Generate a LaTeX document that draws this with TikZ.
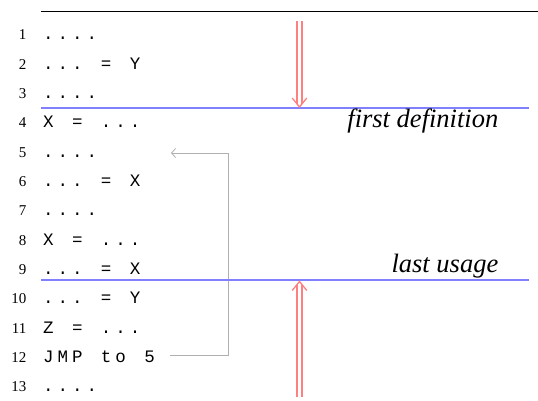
\documentclass[tikz,border=0pt]{standalone}
\usepackage{fontspec}
\setmainfont{Liberation Serif}
\newfontfamily\codefont{Liberation Mono}
\usetikzlibrary{arrows.meta,calc}
\makeatletter
\newcommand\codeline[1]{\@tfor\cch:=#1\do{\makebox[14.45pt][c]{\cch}}}
\makeatother
\definecolor{lblue}{RGB}{128,128,255}
\definecolor{lred}{RGB}{255,128,128}
\definecolor{lgray}{RGB}{176,176,176}
\tikzset{
  lnum/.style={anchor=base east, inner sep=0pt, font=\fontsize{15}{17}\selectfont},
  code/.style={anchor=base west, inner sep=0pt, font=\fontsize{17.5}{20}\codefont},
  lbl/.style={anchor=base east, inner sep=0pt, font=\fontsize{26.5}{30}\selectfont\itshape},
  bline/.style={draw=lblue, line width=2pt},
  rshaft/.style={draw=lred, line width=1.3pt},
  rhead/.style={draw=lred, line width=1.3pt},
  jmp/.style={draw=lgray, line width=0.8pt, -{Straight Barb[length=4pt,width=9pt]}}
}
\begin{document}
\begin{tikzpicture}[x=1pt,y=-1pt]
\useasboundingbox (0,0) rectangle (538,401);
% line numbers and code
\foreach \i/\txt in {1/{....},2/{...~=~Y},3/{....},4/{X~=~...},5/{....},6/{...~=~X},7/{....},8/{X~=~...},9/{...~=~X},10/{...~=~Y},11/{Z~=~...},12/{JMP~to~5},13/{....}}{
  \node[lnum] (n\i) at (26.5,{40+(\i-1)*29.3}) {\i};
  \node[code] (c\i) at (41,{40+(\i-1)*29.3}) {\expandafter\codeline\expandafter{\txt}};
}
% top rule
\coordinate (tl) at (41,11.3);
\coordinate (tr) at (538,11.3);
\draw[line width=1pt] (tl) -- (tr);
% jump arrow
\coordinate (js) at (170,355);
\coordinate (jc1) at (228,355);
\coordinate (jc2) at (228,153);
\coordinate (je) at (171,153);
\draw[jmp] (js) -- (jc1) -- (jc2) -- (je);
% blue lines
\coordinate (b1l) at (41,108.3);
\coordinate (b1r) at (529,108.3);
\coordinate (b2l) at (41,280);
\coordinate (b2r) at (529,280);
\draw[bline] (b1l) -- (b1r);
\draw[bline] (b2l) -- (b2r);
% red arrows
\coordinate (r1s) at (299.5,21);
\coordinate (r1t) at (299.5,107);
\coordinate (r2s) at (299.5,397);
\coordinate (r2t) at (299.5,281.5);
\draw[rshaft] ($(r1s)+(-2.6,0)$) -- ($(r1t)+(-2.6,-3)$);
\draw[rshaft] ($(r1s)+(2.6,0)$) -- ($(r1t)+(2.6,-3)$);
\draw[rhead] ($(r1t)+(-7.3,-9)$) -- (r1t) -- ($(r1t)+(7.3,-9)$);
\draw[rshaft] ($(r2s)+(-2.6,0)$) -- ($(r2t)+(-2.6,3)$);
\draw[rshaft] ($(r2s)+(2.6,0)$) -- ($(r2t)+(2.6,3)$);
\draw[rhead] ($(r2t)+(-7.3,9)$) -- (r2t) -- ($(r2t)+(7.3,9)$);
% labels
\node[lbl] (fd) at (498.5,128) {first definition};
\node[lbl] (lu) at (498.5,272.7) {last usage};
\end{tikzpicture}
\end{document}
